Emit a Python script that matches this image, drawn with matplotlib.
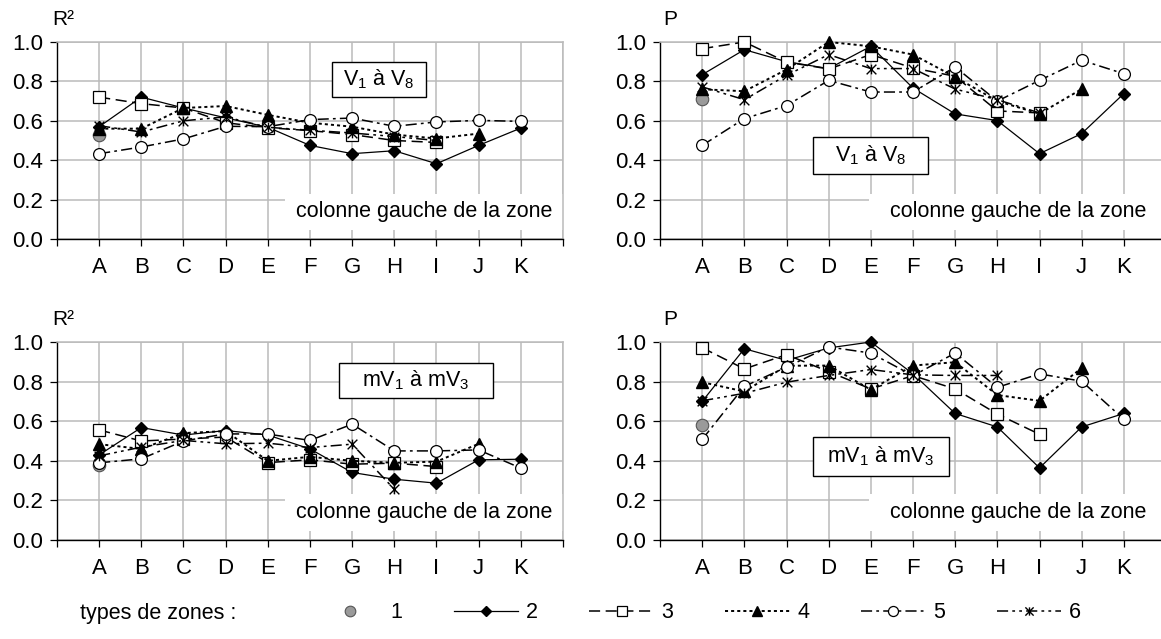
import numpy as np
import matplotlib
matplotlib.use('Agg')
import matplotlib.pyplot as plt
from matplotlib.lines import Line2D
from matplotlib.path import Path
from matplotlib.patches import Rectangle

plt.rcParams['font.family'] = ['Liberation Sans', 'DejaVu Sans']
plt.rcParams['mathtext.fontset'] = 'custom'
plt.rcParams['mathtext.rm'] = 'Liberation Sans'
plt.rcParams['mathtext.it'] = 'Liberation Sans:italic'
plt.rcParams['lines.scale_dashes'] = False

nan = np.nan

# categories (columns of the zone)
zones = ['A', 'B', 'C', 'D', 'E', 'F', 'G', 'H', 'I', 'J', 'K']
zone_types = ['1', '2', '3', '4', '5', '6']

# R2, V1 a V8 (one list per zone type)
r2_v_1 = [0.53, nan, nan, nan, nan, nan, nan, nan, nan, nan, nan]
r2_v_2 = [0.57, 0.72, 0.665, 0.615, 0.567, 0.475, 0.433, 0.448, 0.382, 0.475, 0.563]
r2_v_3 = [0.72, 0.687, 0.665, 0.59, 0.565, 0.55, 0.53, 0.50, 0.49, nan, nan]
r2_v_4 = [0.56, 0.56, 0.665, 0.675, 0.63, 0.59, 0.57, 0.53, 0.51, 0.535, nan]
r2_v_5 = [0.433, 0.467, 0.508, 0.572, 0.57, 0.606, 0.614, 0.572, 0.594, 0.602, 0.597]
r2_v_6 = [0.575, 0.543, 0.60, 0.62, 0.567, 0.552, 0.538, 0.52, 0.50, nan, nan]

# P, V1 a V8
p_v_1 = [0.71, nan, nan, nan, nan, nan, nan, nan, nan, nan, nan]
p_v_2 = [0.834, 0.961, 0.90, 0.865, 0.978, 0.766, 0.635, 0.601, 0.433, 0.535, 0.738]
p_v_3 = [0.966, 1.0, 0.898, 0.863, 0.936, 0.868, 0.826, 0.65, 0.64, nan, nan]
p_v_4 = [0.76, 0.75, 0.86, 1.0, 0.978, 0.936, 0.822, 0.70, 0.636, 0.761, nan]
p_v_5 = [0.475, 0.611, 0.677, 0.805, 0.746, 0.746, 0.873, 0.70, 0.805, 0.907, 0.839]
p_v_6 = [0.772, 0.707, 0.831, 0.936, 0.865, 0.865, 0.761, 0.707, 0.64, nan, nan]

# R2, mV1 a mV3
r2_mv_1 = [0.379, nan, nan, nan, nan, nan, nan, nan, nan, nan, nan]
r2_mv_2 = [0.43, 0.568, 0.53, 0.553, 0.53, 0.46, 0.341, 0.307, 0.287, 0.405, 0.408]
r2_mv_3 = [0.556, 0.50, 0.51, 0.52, 0.391, 0.405, 0.383, 0.388, 0.371, nan, nan]
r2_mv_4 = [0.484, 0.46, 0.54, 0.55, 0.40, 0.42, 0.40, 0.39, 0.396, 0.486, nan]
r2_mv_5 = [0.39, 0.41, 0.50, 0.536, 0.535, 0.503, 0.585, 0.45, 0.45, 0.455, 0.363]
r2_mv_6 = [0.425, 0.469, 0.503, 0.486, 0.489, 0.467, 0.484, 0.256, nan, nan, nan]

# P, mV1 a mV3
p_mv_1 = [0.58, nan, nan, nan, nan, nan, nan, nan, nan, nan, nan]
p_mv_2 = [0.70, 0.966, 0.907, 0.97, 1.0, 0.839, 0.639, 0.571, 0.364, 0.571, 0.639]
p_mv_3 = [0.971, 0.864, 0.936, 0.85, 0.763, 0.83, 0.763, 0.636, 0.534, nan, nan]
p_mv_4 = [0.797, 0.75, 0.88, 0.881, 0.759, 0.881, 0.898, 0.732, 0.703, 0.868, nan]
p_mv_5 = [0.508, 0.776, 0.873, 0.975, 0.944, 0.83, 0.944, 0.771, 0.839, 0.802, 0.61]
p_mv_6 = [0.703, 0.741, 0.797, 0.831, 0.861, 0.834, 0.831, 0.831, nan, nan, nan]

y_ticks = [0.0, 0.2, 0.4, 0.6, 0.8, 1.0]

# excel like "star" marker : an X with a vertical bar
star = Path([(0, -1), (0, 1), (-1, -1), (1, 1), (-1, 1), (1, -1)],
            [Path.MOVETO, Path.LINETO] * 3)

# one style per zone type
styles = [
    dict(ls='none', marker='o', ms=9, mfc='#9a9a9a', mec='#555555', mew=0.8),
    dict(ls='-', lw=0.9, marker='D', ms=6.5, mfc='black', mec='black'),
    dict(ls=(0, (8, 4)), lw=1.1, marker='s', ms=8.5, mfc='white', mec='black', mew=0.9),
    dict(ls=(0, (2.2, 2.2)), lw=1.4, marker='^', ms=8.5, mfc='black', mec='black'),
    dict(ls=(0, (8, 3, 2, 3)), lw=1.1, marker='o', ms=8.5, mfc='white', mec='black', mew=0.9),
    dict(ls=(0, (8, 3, 2, 3, 2, 3)), lw=1.1, marker=star, ms=7, mfc='none', mec='black', mew=1.0),
]

fs = 15.5


def draw_panel(ax, series, ylabel, ylabel_x, box_text, box_rect, note_left, note_x):
    x = np.arange(len(zones))
    # white area behind the note, it hides the grid
    ax.add_patch(Rectangle((note_left, 0.048), 12, 0.182, facecolor='white',
                           edgecolor='none', zorder=1))
    for values, st in zip(series, styles):
        ax.plot(x, values, color='black', zorder=3, clip_on=False, **st)

    ax.set_xlim(-1, 11)
    ax.set_ylim(0, 1)
    ax.set_xticks(range(-1, 12))
    ax.set_xticklabels([''] + zones + [''])
    ax.set_yticks(y_ticks)
    ax.set_yticklabels(['%.1f' % t for t in y_ticks])
    ax.grid(True, color='#bababa', lw=1.1)
    ax.set_axisbelow(True)
    ax.tick_params(axis='both', direction='out', length=5, width=0.9,
                   labelsize=16, colors='black')
    ax.tick_params(axis='x', pad=8)
    ax.tick_params(axis='y', pad=5)
    for side in ['top', 'right']:
        ax.spines[side].set_color('#bababa')
        ax.spines[side].set_linewidth(1.1)
    for side in ['left', 'bottom']:
        ax.spines[side].set_color('black')
        ax.spines[side].set_linewidth(1.0)

    ax.text(ylabel_x, 1.115, ylabel, transform=ax.transAxes, fontsize=15,
            ha='left', va='center')

    bx, by, bw, bh = box_rect
    ax.add_patch(Rectangle((bx, by), bw, bh, facecolor='white', edgecolor='black',
                           lw=1.0, zorder=4))
    ax.text(bx + bw / 2, by + bh / 2, box_text, fontsize=fs, ha='center',
            va='center', zorder=5)
    ax.text(note_x, 0.14, 'colonne gauche de la zone', fontsize=fs,
            ha='right', va='center', zorder=5)


fig = plt.figure(figsize=(11.61, 6.39), dpi=100)
ax1 = fig.add_axes([0.0491, 0.626, 0.4358, 0.3083])
ax2 = fig.add_axes([0.5685, 0.626, 0.4358, 0.3083])
ax3 = fig.add_axes([0.0491, 0.1549, 0.4358, 0.3099])
ax4 = fig.add_axes([0.5685, 0.1549, 0.4358, 0.3099])

draw_panel(ax1, [r2_v_1, r2_v_2, r2_v_3, r2_v_4, r2_v_5, r2_v_6], 'R²', -0.01,
           'V$_1$ à V$_8$', (5.52, 0.721, 2.23, 0.178), 4.4, 10.75)
draw_panel(ax2, [p_v_1, p_v_2, p_v_3, p_v_4, p_v_5, p_v_6], 'P', 0.006,
           'V$_1$ à V$_8$', (2.63, 0.33, 2.73, 0.188), 3.95, 10.54)
draw_panel(ax3, [r2_mv_1, r2_mv_2, r2_mv_3, r2_mv_4, r2_mv_5, r2_mv_6], 'R²', -0.01,
           'mV$_1$ à mV$_3$', (5.68, 0.717, 3.67, 0.177), 4.4, 10.75)
draw_panel(ax4, [p_mv_1, p_mv_2, p_mv_3, p_mv_4, p_mv_5, p_mv_6], 'P', 0.006,
           'mV$_1$ à mV$_3$', (2.63, 0.323, 3.22, 0.197), 3.95, 10.54)

# legend at the bottom
handles = []
for st in styles:
    small = dict(st)
    small['ms'] = st['ms'] * 0.85
    handles.append(Line2D([], [], color='black', **small))
fig.text(80 / 1161, 1 - 613 / 639, 'types de zones :', fontsize=15.5,
         ha='left', va='center')
fig.legend(handles, zone_types, loc='center left',
           bbox_to_anchor=(318 / 1161, 1 - 613 / 639), ncol=6, frameon=False,
           fontsize=15.5, handlelength=3.0, handletextpad=0.35,
           columnspacing=2.4, borderpad=0, borderaxespad=0)

fig.savefig('out.png', dpi=100)
